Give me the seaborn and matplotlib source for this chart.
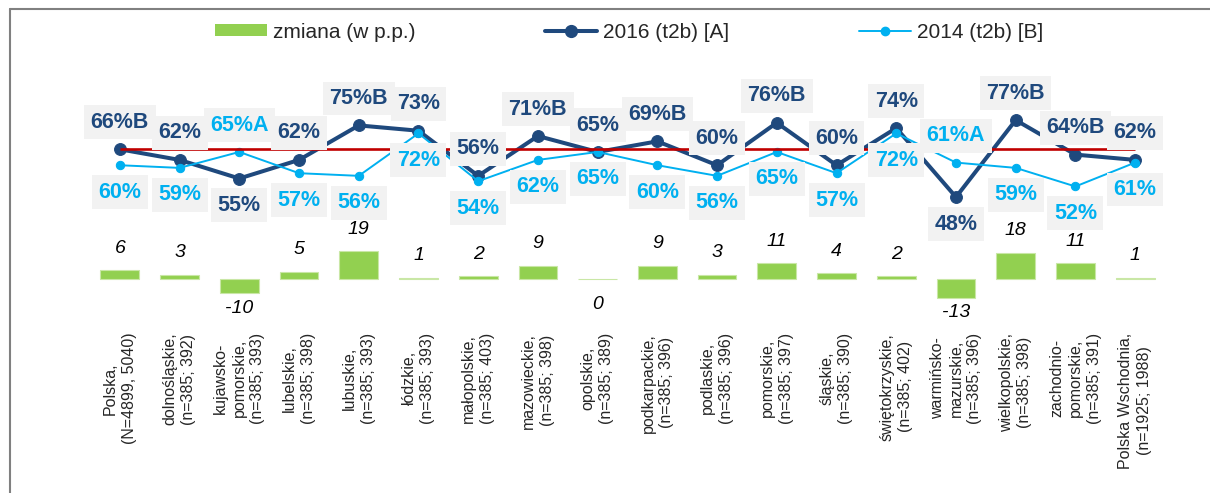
import numpy as np
import pandas as pd
import matplotlib
matplotlib.use("Agg")
import matplotlib.pyplot as plt
from matplotlib.patches import Patch
from matplotlib.lines import Line2D
import seaborn as sns

# Dane
regiony = [
    "Polska,\n(N=4899, 5040)",
    "dolnośląskie,\n(n=385; 392)",
    "kujawsko-\npomorskie,\n(n=385; 393)",
    "lubelskie,\n(n=385; 398)",
    "lubuskie,\n(n=385; 393)",
    "łódzkie,\n(n=385; 393)",
    "małopolskie,\n(n=385; 403)",
    "mazowieckie,\n(n=385; 398)",
    "opolskie,\n(n=385; 389)",
    "podkarpackie,\n(n=385; 396)",
    "podlaskie,\n(n=385; 396)",
    "pomorskie,\n(n=385; 397)",
    "śląskie,\n(n=385; 390)",
    "świętokrzyskie,\n(n=385; 402)",
    "warmińsko-\nmazurskie,\n(n=385; 396)",
    "wielkopolskie,\n(n=385; 398)",
    "zachodnio-\npomorskie,\n(n=385; 391)",
    "Polska Wschodnia,\n(n=1925; 1988)",
]
wyniki_2016 = [66, 62, 55, 62, 75, 73, 56, 71, 65, 69, 60, 76, 60, 74, 48, 77, 64, 62]
wyniki_2014 = [60, 59, 65, 57, 56, 72, 54, 62, 65, 60, 56, 65, 57, 72, 61, 59, 52, 61]
zmiana = [6, 3, -10, 5, 19, 1, 2, 9, 0, 9, 3, 11, 4, 2, -13, 18, 11, 1]
istotnosc_2016 = ["B", "", "", "", "B", "", "", "B", "", "B", "", "B", "", "", "", "B", "B", ""]
istotnosc_2014 = ["", "", "A", "", "", "", "", "", "", "", "", "", "", "", "A", "", "", ""]

# etykiety 2016 nad punktem (1) lub pod (-1), 2014 odwrotnie
strona_2016 = [1, 1, -1, 1, 1, 1, 1, 1, 1, 1, 1, 1, 1, 1, -1, 1, 1, 1]
strona_2014 = [-1, -1, 1, -1, -1, -1, -1, -1, -1, -1, -1, -1, -1, -1, 1, -1, -1, -1]

granat = "#1F497D"
niebieski = "#00B0F0"
zielony = "#92D050"
czerwony = "#C00000"

df = pd.DataFrame({
    "region": regiony,
    "poz": np.arange(len(regiony)),
    "2016": wyniki_2016,
    "2014": wyniki_2014,
    "zmiana": zmiana,
})

sns.set_style("white")
plt.rcParams["font.family"] = ["Liberation Sans", "DejaVu Sans"]

fig = plt.figure(figsize=(12.1, 4.93), dpi=100)
ax = fig.add_axes([90 / 1210, 163 / 493, 1075 / 1210, 290 / 493])

# Słupki zmiany
sns.barplot(data=df, x="region", y="zmiana", color=zielony, width=0.65,
            saturation=1, edgecolor="#c9e7a6", linewidth=0.8, ax=ax)
ax.set_ylim(-35.2, 164.8)
ax.set_xlim(-0.5, len(regiony) - 0.5)

for i, v in enumerate(zmiana):
    if v > 0:
        off = 15.8
    elif v < 0:
        off = -10.5
    else:
        off = -18.5
    ax.annotate(str(v), (i, v), xytext=(0, off),
                textcoords="offset points", ha="center", va="center",
                fontsize=14, style="italic", color="black")

# Linie
ax2 = ax.twinx()
sns.lineplot(data=df, x="poz", y="2016", ax=ax2, color=granat, linewidth=2.9,
             marker="o", markersize=8.5, markeredgecolor=granat, zorder=3)
sns.lineplot(data=df, x="poz", y="2014", ax=ax2, color=niebieski, linewidth=1.4,
             marker="o", markersize=6, markeredgecolor=niebieski, zorder=3)
ax2.hlines(wyniki_2016[0], 0, len(regiony) - 1, color=czerwony, linewidth=1.9, zorder=4)
ax2.set_ylim(-2.06, 107.17)
ax2.set_xlim(-0.5, len(regiony) - 0.5)

for i in range(len(regiony)):
    ax2.annotate(f"{wyniki_2016[i]}%{istotnosc_2016[i]}", (i, wyniki_2016[i]),
                 xytext=(0, 19.4 * strona_2016[i]), textcoords="offset points",
                 ha="center", va="center", fontsize=15.5, fontweight="bold", color=granat,
                 bbox=dict(boxstyle="square,pad=0.3", fc="#F2F2F2", ec="none"), zorder=6)
    ax2.annotate(f"{wyniki_2014[i]}%{istotnosc_2014[i]}", (i, wyniki_2014[i]),
                 xytext=(0, 19.4 * strona_2014[i]), textcoords="offset points",
                 ha="center", va="center", fontsize=15.5, fontweight="bold", color=niebieski,
                 bbox=dict(boxstyle="square,pad=0.3", fc="#F2F2F2", ec="none"), zorder=6)

# Osie
for a in (ax, ax2):
    for s in a.spines.values():
        s.set_visible(False)
    a.set_yticks([])
    a.set_ylabel("")
    a.set_xlabel("")
ax.tick_params(axis="x", length=0, pad=2)
ax.set_xticks(range(len(regiony)))
ax.set_xticklabels(regiony, rotation=90, fontsize=11.5, ha="center", va="top",
                   multialignment="center", linespacing=1.3)
ax2.tick_params(axis="x", length=0, labelbottom=False)

# Legenda
uchwyty = [
    Patch(facecolor=zielony, edgecolor="none"),
    Line2D([], [], color=granat, linewidth=2.9, marker="o", markersize=8.5),
    Line2D([], [], color=niebieski, linewidth=1.4, marker="o", markersize=6),
]
fig.legend(uchwyty, ["zmiana (w p.p.)", "2016 (t2b) [A]", "2014 (t2b) [B]"],
           loc="center", bbox_to_anchor=(629 / 1210, 1 - 32 / 493), ncol=3,
           frameon=False, fontsize=15, handlelength=2.5, handleheight=0.5,
           handletextpad=0.3, columnspacing=6.2)

# Ramka
fig.add_artist(Line2D([9.5 / 1210, 9.5 / 1210], [0, 1 - 8.5 / 493], transform=fig.transFigure,
                      color="#808080", linewidth=1.5))
fig.add_artist(Line2D([9.5 / 1210, 1], [1 - 8.5 / 493, 1 - 8.5 / 493], transform=fig.transFigure,
                      color="#808080", linewidth=1.5))

fig.savefig("out.png", dpi=100)
